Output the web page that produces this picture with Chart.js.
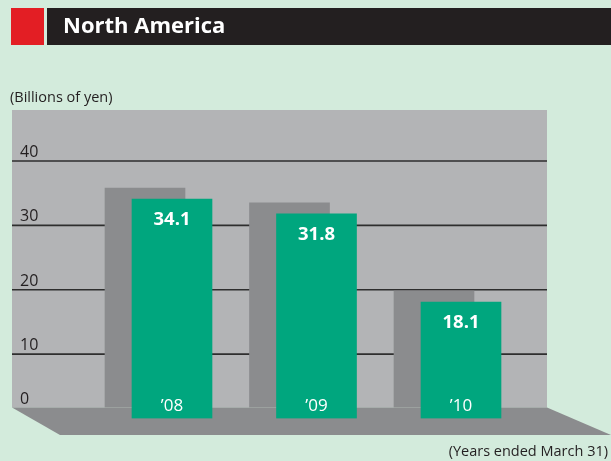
<!DOCTYPE html>
<html>
<head>
<meta charset="utf-8">
<script src="https://cdn.jsdelivr.net/npm/chart.js@4"></script>
<style>
  html, body { margin: 0; padding: 0; background: #d3ebdc; }
  canvas { display: block; }
</style>
</head>
<body>
<canvas id="regionChart" width="611" height="461"></canvas>
<script>
// data
const categories = ['\u201908', '\u201909', '\u201910'];
const salesValues = [34.1, 31.8, 18.1];
const yTicks = [0, 10, 20, 30, 40];

const FONT = '"Open Sans", "Noto Sans", sans-serif';
const depth = { dx: -27, dy: -11 };   // shadow offset of the pseudo-3D look
const wall = { left: 12, right: 547, top: 110 };

// background, title bar, back wall, floor, grid
const decoPlugin = {
    id: 'deco',
    beforeDraw(chart) {
        const c = chart.ctx;
        const y = chart.scales.y;
        c.save();
        c.fillStyle = '#d3ebdc';
        c.fillRect(0, 0, chart.width, chart.height);

        // title bar
        c.fillStyle = '#e31e24';
        c.fillRect(11, 8, 33, 37);
        c.fillStyle = '#231f20';
        c.fillRect(47, 8, 564, 37);
        c.fillStyle = '#ffffff';
        c.font = 'bold 22px ' + FONT;
        c.textBaseline = 'middle';
        c.fillText('North America', 63, 27);

        c.fillStyle = '#231f20';
        c.font = '14.5px ' + FONT;
        c.textBaseline = 'alphabetic';
        c.fillText('(Billions of yen)', 10, 102);
        c.textAlign = 'right';
        c.fillText('(Years ended March 31)', 608, 456);

        // back wall
        const zero = y.getPixelForValue(0);
        const wallBottom = zero + depth.dy;
        c.fillStyle = '#b3b4b6';
        c.fillRect(wall.left, wall.top, wall.right - wall.left, wallBottom - wall.top);

        // floor
        c.fillStyle = '#8b8c8e';
        c.beginPath();
        c.moveTo(wall.left, wallBottom);
        c.lineTo(wall.right, wallBottom);
        c.lineTo(611, 435);
        c.lineTo(60, 435);
        c.closePath();
        c.fill();

        // grid lines and tick labels
        c.textAlign = 'left';
        c.font = '16px ' + FONT;
        y.ticks.forEach(t => {
            const py = y.getPixelForValue(t.value);
            if (t.value > 0) {
                c.strokeStyle = '#2e2e2e';
                c.lineWidth = 1.6;
                c.beginPath();
                c.moveTo(wall.left, py);
                c.lineTo(wall.right, py);
                c.stroke();
            }
            c.fillStyle = '#231f20';
            c.fillText(String(t.value), 20, Math.min(py - 4, wallBottom - 4));
        });
        c.restore();
    },
    beforeDatasetDraw(chart, args) {
        if (args.index === 1) {
            chart.ctx.save();
            chart.ctx.translate(depth.dx, depth.dy);
        }
    },
    afterDatasetDraw(chart, args) {
        if (args.index === 1) chart.ctx.restore();
    },
    afterDatasetsDraw(chart) {
        const c = chart.ctx;
        const meta = chart.getDatasetMeta(0);
        c.save();
        c.fillStyle = '#ffffff';
        c.textAlign = 'center';
        c.textBaseline = 'middle';
        meta.data.forEach((bar, i) => {
            c.font = 'bold 18.5px ' + FONT;
            c.fillText(salesValues[i].toFixed(1), bar.x, bar.y + 21);
            c.font = '17px ' + FONT;
            c.fillText(categories[i], bar.x, bar.base - 12);
        });
        c.restore();
    }
};

const ctx = document.getElementById('regionChart').getContext('2d');
const regionChart = new Chart(ctx, {
    type: 'bar',
    data: {
        labels: categories,
        datasets: [{
            data: salesValues,
            backgroundColor: '#00a67e',
            barThickness: 80,
            grouped: false,
            order: 0,
        }, {
            data: salesValues,
            backgroundColor: '#8b8c8e',
            barThickness: 80,
            grouped: false,
            order: 1,
        }]
    },
    options: {
        responsive: false,
        animation: false,
        layout: {
            padding: { left: 99.75, right: 77.75, top: 161, bottom: 42.5 }
        },
        scales: {
            x: { display: false },
            y: {
                display: false,
                min: 0,
                max: 40,
                afterBuildTicks: axis => { axis.ticks = yTicks.map(v => ({ value: v })); }
            }
        },
        plugins: {
            legend: { display: false },
            tooltip: { enabled: false }
        }
    },
    plugins: [decoPlugin]
});
</script>
</body>
</html>
